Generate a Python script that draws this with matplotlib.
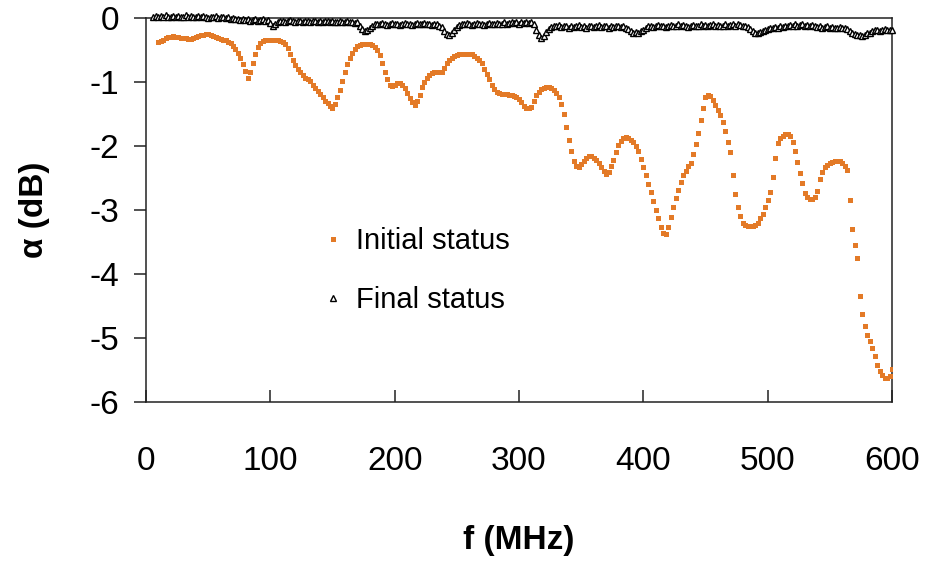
"""Attenuation vs frequency, initial and final status."""
import matplotlib
matplotlib.use("Agg")
import matplotlib.pyplot as plt
import numpy as np

plt.rcParams["font.family"] = ["Liberation Sans", "DejaVu Sans"]

ORANGE = "#E37A27"
INK = "#222222"

# initial status, sampled every 2 MHz starting at 10 MHz
initial_db = [
    -0.38, -0.36, -0.34, -0.32, -0.30, -0.29, -0.28, -0.29, -0.30, -0.31,
    -0.31, -0.32, -0.33, -0.33, -0.32, -0.30, -0.28, -0.27, -0.26, -0.25,
    -0.25, -0.26, -0.28, -0.30, -0.32, -0.33, -0.34, -0.35, -0.37, -0.39,
    -0.43, -0.48, -0.55, -0.63, -0.72, -0.83, -0.94, -0.85, -0.70, -0.56,
    -0.46, -0.39, -0.36, -0.35, -0.35, -0.35, -0.35, -0.35, -0.35, -0.36,
    -0.37, -0.41, -0.47, -0.56, -0.66, -0.74, -0.80, -0.85, -0.89, -0.93,
    -0.96, -0.99, -1.04, -1.09, -1.14, -1.19, -1.24, -1.29, -1.33, -1.37,
    -1.40, -1.34, -1.24, -1.12, -0.98, -0.84, -0.72, -0.62, -0.54, -0.48,
    -0.44, -0.42, -0.41, -0.41, -0.41, -0.41, -0.42, -0.45, -0.50, -0.58,
    -0.70, -0.84, -0.96, -1.05, -1.07, -1.05, -1.02, -1.01, -1.04, -1.10,
    -1.17, -1.25, -1.32, -1.36, -1.30, -1.20, -1.08, -1.00, -0.94, -0.89,
    -0.86, -0.85, -0.85, -0.85, -0.84, -0.78, -0.71, -0.66, -0.63, -0.60,
    -0.58, -0.57, -0.56, -0.56, -0.56, -0.56, -0.57, -0.59, -0.62, -0.66,
    -0.71, -0.79, -0.88, -0.96, -1.04, -1.11, -1.15, -1.17, -1.18, -1.19,
    -1.19, -1.20, -1.21, -1.22, -1.24, -1.27, -1.32, -1.37, -1.40, -1.41,
    -1.39, -1.30, -1.21, -1.15, -1.11, -1.09, -1.08, -1.08, -1.10, -1.13,
    -1.17, -1.24, -1.34, -1.50, -1.71, -1.90, -2.08, -2.23, -2.31, -2.33,
    -2.28, -2.23, -2.18, -2.15, -2.16, -2.19, -2.22, -2.27, -2.33, -2.39,
    -2.43, -2.40, -2.32, -2.22, -2.09, -1.98, -1.92, -1.88, -1.86, -1.87,
    -1.90, -1.94, -2.00, -2.08, -2.20, -2.33, -2.46, -2.59, -2.72, -2.86,
    -3.00, -3.13, -3.26, -3.36, -3.38, -3.26, -3.11, -2.96, -2.82, -2.69,
    -2.56, -2.46, -2.39, -2.32, -2.26, -2.12, -1.97, -1.79, -1.60, -1.40,
    -1.24, -1.20, -1.22, -1.28, -1.36, -1.44, -1.52, -1.62, -1.77, -1.93,
    -2.10, -2.45, -2.75, -2.95, -3.10, -3.20, -3.24, -3.25, -3.25, -3.25,
    -3.24, -3.20, -3.13, -3.06, -2.96, -2.85, -2.72, -2.48, -2.18, -1.96,
    -1.88, -1.85, -1.82, -1.81, -1.85, -1.93, -2.08, -2.25, -2.42, -2.58,
    -2.73, -2.80, -2.83, -2.83, -2.79, -2.70, -2.52, -2.40, -2.33, -2.29,
    -2.27, -2.25, -2.24, -2.23, -2.23, -2.26, -2.31, -2.38, -2.85, -3.30,
    -3.55, -3.75, -4.35, -4.62, -4.82, -4.95, -5.05, -5.15, -5.28, -5.42,
    -5.52, -5.58, -5.62, -5.62, -5.60, -5.48,
]
initial_f = 10 + 2 * np.arange(len(initial_db))

# final status, sampled every 2 MHz starting at 6 MHz
final_db = [
    0.02, 0.03, 0.01, 0.03, 0.02, 0.04, 0.02, 0.01, 0.03, 0.02,
    0.03, 0.01, 0.02, 0.04, 0.02, 0.03, 0.01, 0.02, 0.03, 0.01,
    0.03, 0.02, 0.00, 0.02, 0.01, 0.03, 0.00, 0.01, 0.02, 0.00,
    0.01, -0.01, 0.00, -0.02, -0.01, -0.03, -0.02, -0.03, -0.02, -0.04,
    -0.03, -0.02, -0.04, -0.03, -0.02, -0.04, -0.03, -0.08, -0.12, -0.10,
    -0.07, -0.05, -0.04, -0.06, -0.05, -0.03, -0.05, -0.06, -0.04, -0.05,
    -0.06, -0.04, -0.05, -0.07, -0.05, -0.04, -0.06, -0.05, -0.07, -0.05,
    -0.04, -0.06, -0.05, -0.07, -0.06, -0.05, -0.07, -0.06, -0.05, -0.07,
    -0.06, -0.08, -0.07, -0.12, -0.17, -0.20, -0.19, -0.15, -0.12, -0.10,
    -0.09, -0.10, -0.08, -0.09, -0.11, -0.09, -0.08, -0.10, -0.09, -0.11,
    -0.09, -0.08, -0.10, -0.09, -0.11, -0.10, -0.08, -0.09, -0.10, -0.08,
    -0.10, -0.09, -0.11, -0.09, -0.10, -0.12, -0.14, -0.20, -0.25, -0.27,
    -0.24, -0.19, -0.14, -0.11, -0.09, -0.10, -0.08, -0.09, -0.11, -0.09,
    -0.08, -0.10, -0.09, -0.11, -0.09, -0.08, -0.10, -0.09, -0.08, -0.10,
    -0.09, -0.07, -0.09, -0.08, -0.06, -0.08, -0.07, -0.09, -0.07, -0.08,
    -0.06, -0.08, -0.07, -0.10, -0.18, -0.27, -0.32, -0.28, -0.22, -0.17,
    -0.14, -0.12, -0.13, -0.11, -0.14, -0.12, -0.13, -0.15, -0.12, -0.14,
    -0.13, -0.11, -0.14, -0.12, -0.15, -0.13, -0.12, -0.14, -0.13, -0.11,
    -0.14, -0.12, -0.13, -0.15, -0.12, -0.14, -0.13, -0.12, -0.14, -0.13,
    -0.15, -0.17, -0.21, -0.23, -0.22, -0.24, -0.21, -0.18, -0.15, -0.13,
    -0.12, -0.14, -0.13, -0.11, -0.13, -0.12, -0.14, -0.12, -0.11, -0.13,
    -0.12, -0.10, -0.13, -0.11, -0.12, -0.14, -0.12, -0.11, -0.13, -0.12,
    -0.10, -0.12, -0.11, -0.13, -0.11, -0.10, -0.12, -0.11, -0.13, -0.12,
    -0.10, -0.12, -0.11, -0.09, -0.12, -0.10, -0.11, -0.13, -0.12, -0.14,
    -0.17, -0.21, -0.23, -0.24, -0.22, -0.20, -0.18, -0.17, -0.15, -0.16,
    -0.14, -0.15, -0.13, -0.14, -0.12, -0.13, -0.11, -0.12, -0.10, -0.12,
    -0.11, -0.10, -0.12, -0.11, -0.13, -0.11, -0.12, -0.14, -0.13, -0.15,
    -0.14, -0.13, -0.15, -0.14, -0.16, -0.15, -0.14, -0.16, -0.15, -0.17,
    -0.20, -0.23, -0.25, -0.27, -0.26, -0.28, -0.26, -0.24, -0.23, -0.21,
    -0.19, -0.18, -0.20, -0.18, -0.17, -0.19, -0.18, -0.19,
]
final_f = 6 + 2 * np.arange(len(final_db))

x_ticks = [0, 100, 200, 300, 400, 500, 600]
y_ticks = [0, -1, -2, -3, -4, -5, -6]

fig = plt.figure(figsize=(9.28, 5.69), dpi=100)
ax = fig.add_axes([0.1573, 0.2935, 0.8039, 0.6749])

ax.plot(initial_f, initial_db, linestyle="none", marker="s", markersize=3.6,
        color=ORANGE, markeredgewidth=0, label="Initial status", zorder=3)
ax.plot(final_f, final_db, linestyle="none", marker="^", markersize=5.0,
        markerfacecolor="white", markeredgecolor="black", markeredgewidth=1.0,
        label="Final status", clip_on=False, zorder=4)

ax.set_xlim(0, 600)
ax.set_ylim(-6, 0)
ax.set_xticks(x_ticks)
ax.set_yticks(y_ticks, [str(v) for v in y_ticks])

for side in ax.spines.values():
    side.set_linewidth(1.1)
    side.set_color(INK)

ax.tick_params(axis="y", direction="out", length=9, width=1.1, color=INK,
               labelsize=24, pad=10, right=False)
ax.tick_params(axis="x", direction="in", length=9, width=1.1, color=INK,
               labelsize=24, pad=32, top=False)

ax.set_xlabel("f (MHz)", fontsize=24, fontweight="bold")
ax.set_ylabel("\u03b1 (dB)", fontsize=24, fontweight="bold")
ax.xaxis.set_label_coords(0.5, -0.32)
ax.yaxis.set_label_coords(-0.128, 0.5)

ax.legend(loc="upper left", bbox_to_anchor=(0.235, 0.455), frameon=False,
          fontsize=21, handlelength=0.8, handletextpad=0.4, labelspacing=1.05,
          borderpad=0, borderaxespad=0, numpoints=1)

fig.savefig("out.png", dpi=100, facecolor="white")
